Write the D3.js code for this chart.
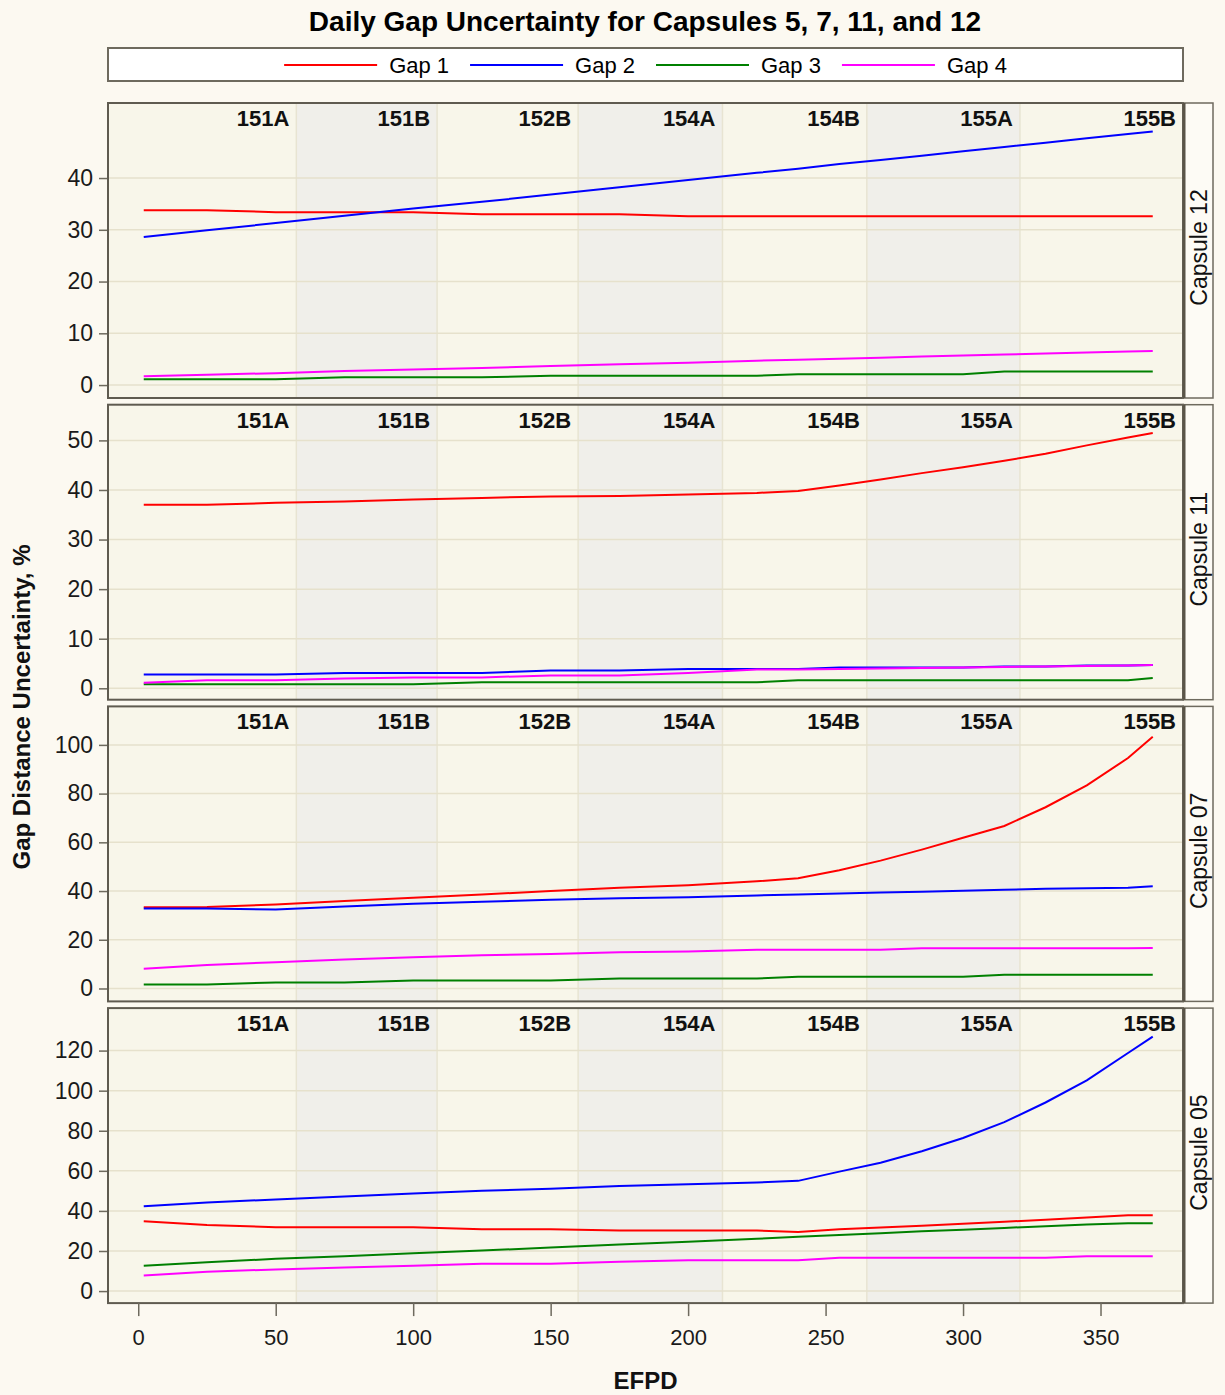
<!DOCTYPE html>
<html>
<head>
<meta charset="utf-8">
<script src="https://cdn.jsdelivr.net/npm/d3@7"></script>
<style>
  body { margin: 0; background: #fcf9f1; }
  svg { display: block; font-family: "Liberation Sans", Arial, sans-serif; }
</style>
</head>
<body>
<div id="chart"></div>
<script>
// EFPD sample points
const efpd = [2, 25, 50, 75, 100, 125, 150, 175, 200, 225, 240, 255, 270, 285, 300, 315, 330, 345, 360, 369];

const gapNames = ["Gap 1", "Gap 2", "Gap 3", "Gap 4"];
const gapColors = ["#ff0000", "#0000ff", "#008000", "#ff00ff"];

const capsuleNames = ["Capsule 12", "Capsule 11", "Capsule 07", "Capsule 05"];

// cycles and where each one ends (EFPD)
const cycleNames = ["151A", "151B", "152B", "154A", "154B", "155A", "155B"];
const cycleEnds = [57.5, 108.7, 160, 212.5, 265, 320.7, 380];

// Capsule 12
const cap12Gap1 = [33.8, 33.8, 33.4, 33.4, 33.4, 33.0, 33.0, 33.0, 32.6, 32.6, 32.6, 32.6, 32.6, 32.6, 32.6, 32.6, 32.6, 32.6, 32.6, 32.6];
const cap12Gap2 = [28.6, 29.9, 31.3, 32.7, 34.1, 35.4, 36.8, 38.2, 39.6, 41.0, 41.8, 42.7, 43.5, 44.3, 45.2, 46.0, 46.8, 47.7, 48.5, 49.0];
const cap12Gap3 = [1.1, 1.1, 1.1, 1.5, 1.5, 1.5, 1.8, 1.8, 1.8, 1.8, 2.1, 2.1, 2.1, 2.1, 2.1, 2.6, 2.6, 2.6, 2.6, 2.6];
const cap12Gap4 = [1.7, 2.0, 2.3, 2.7, 3.0, 3.3, 3.7, 4.0, 4.3, 4.7, 4.9, 5.1, 5.3, 5.5, 5.7, 5.9, 6.1, 6.3, 6.5, 6.6];

// Capsule 11
const cap11Gap1 = [37.0, 37.0, 37.4, 37.7, 38.1, 38.4, 38.7, 38.8, 39.1, 39.4, 39.8, 40.9, 42.1, 43.4, 44.6, 45.9, 47.3, 49.0, 50.6, 51.5];
const cap11Gap2 = [2.8, 2.8, 2.8, 3.1, 3.1, 3.1, 3.6, 3.6, 3.9, 3.9, 3.9, 4.2, 4.2, 4.2, 4.2, 4.4, 4.4, 4.6, 4.6, 4.7];
const cap11Gap3 = [0.8, 0.8, 0.8, 0.8, 0.8, 1.2, 1.2, 1.2, 1.2, 1.2, 1.6, 1.6, 1.6, 1.6, 1.6, 1.6, 1.6, 1.6, 1.6, 2.1];
const cap11Gap4 = [1.1, 1.6, 1.6, 2.0, 2.2, 2.2, 2.6, 2.6, 3.1, 3.8, 3.8, 3.9, 4.0, 4.1, 4.2, 4.3, 4.4, 4.5, 4.6, 4.7];

// Capsule 07
const cap07Gap1 = [33.3, 33.5, 34.5, 35.9, 37.2, 38.6, 40.0, 41.4, 42.4, 44.0, 45.3, 48.5, 52.5, 57.0, 61.9, 66.7, 74.4, 83.4, 94.6, 103.3];
const cap07Gap2 = [32.8, 32.8, 32.4, 33.7, 34.8, 35.6, 36.4, 37.0, 37.5, 38.2, 38.6, 39.0, 39.4, 39.7, 40.1, 40.5, 40.9, 41.2, 41.4, 42.0];
const cap07Gap3 = [1.6, 1.6, 2.5, 2.5, 3.3, 3.3, 3.3, 4.1, 4.1, 4.1, 4.8, 4.8, 4.8, 4.8, 4.8, 5.6, 5.6, 5.6, 5.6, 5.6];
const cap07Gap4 = [8.1, 9.6, 10.8, 11.9, 12.8, 13.6, 14.2, 14.9, 15.2, 15.9, 15.9, 15.9, 15.9, 16.5, 16.5, 16.5, 16.5, 16.5, 16.5, 16.6];

// Capsule 05
const cap05Gap1 = [34.9, 33.0, 31.9, 31.9, 31.9, 30.9, 30.9, 30.2, 30.2, 30.2, 29.5, 30.8, 31.7, 32.6, 33.6, 34.6, 35.6, 36.7, 37.8, 37.8];
const cap05Gap2 = [42.3, 44.2, 45.7, 47.2, 48.7, 50.0, 51.1, 52.4, 53.3, 54.2, 55.0, 59.6, 64.0, 69.8, 76.4, 84.3, 94.1, 105.1, 118.8, 127.0];
const cap05Gap3 = [12.6, 14.4, 16.1, 17.4, 18.9, 20.2, 21.7, 23.2, 24.6, 26.1, 27.1, 28.0, 28.9, 29.8, 30.6, 31.5, 32.4, 33.2, 33.9, 33.9];
const cap05Gap4 = [7.8, 9.6, 10.8, 11.8, 12.6, 13.6, 13.6, 14.6, 15.4, 15.4, 15.4, 16.6, 16.6, 16.6, 16.6, 16.6, 16.6, 17.4, 17.4, 17.4];

const yTicks12 = [0, 10, 20, 30, 40];
const yTicks11 = [0, 10, 20, 30, 40, 50];
const yTicks07 = [0, 20, 40, 60, 80, 100];
const yTicks05 = [0, 20, 40, 60, 80, 100, 120];
const xTicks = [0, 50, 100, 150, 200, 250, 300, 350];

const panels = [
  { name: capsuleNames[0], series: [cap12Gap1, cap12Gap2, cap12Gap3, cap12Gap4], ticks: yTicks12, domain: [-2.5, 54.5] },
  { name: capsuleNames[1], series: [cap11Gap1, cap11Gap2, cap11Gap3, cap11Gap4], ticks: yTicks11, domain: [-2.3, 57.2] },
  { name: capsuleNames[2], series: [cap07Gap1, cap07Gap2, cap07Gap3, cap07Gap4], ticks: yTicks07, domain: [-5.3, 115.8] },
  { name: capsuleNames[3], series: [cap05Gap1, cap05Gap2, cap05Gap3, cap05Gap4], ticks: yTicks05, domain: [-6, 141.2] }
];

const width = 1225, height = 1395;
const plotL = 108, plotR = 1183, stripR = 1213;
const panelTop0 = 103, panelH = 295, panelStep = 301.7;

const svg = d3.select("#chart").append("svg")
  .attr("width", width)
  .attr("height", height);

svg.append("rect").attr("width", width).attr("height", height).attr("fill", "#fcf9f1");

const x = d3.scaleLinear().domain([-11, 380]).range([plotL, plotR]);

// title
svg.append("text")
  .attr("x", 645)
  .attr("y", 31)
  .attr("text-anchor", "middle")
  .style("font-size", "28px")
  .style("font-weight", "bold")
  .attr("fill", "#000")
  .text("Daily Gap Uncertainty for Capsules 5, 7, 11, and 12");

// legend
svg.append("rect")
  .attr("x", plotL).attr("y", 48)
  .attr("width", plotR - plotL).attr("height", 33)
  .attr("fill", "#fff")
  .attr("stroke", "#6e6a5e")
  .attr("stroke-width", 2);

const legend = svg.append("g");
let lx = 0;
gapNames.forEach((name, i) => {
  const item = legend.append("g").attr("transform", `translate(${lx},0)`);
  item.append("line")
    .attr("x1", 0).attr("x2", 93)
    .attr("y1", 65).attr("y2", 65)
    .attr("stroke", gapColors[i])
    .attr("stroke-width", 2);
  const t = item.append("text")
    .attr("x", 105).attr("y", 73)
    .style("font-size", "22px")
    .attr("fill", "#000")
    .text(name);
  lx += 105 + t.node().getComputedTextLength() + 21;
});
const legendW = lx - 21;
legend.attr("transform", `translate(${(plotL + plotR) / 2 - legendW / 2},0)`);

svg.append("defs").append("clipPath").attr("id", "plotclip")
  .append("rect")
  .attr("x", plotL).attr("y", 0)
  .attr("width", plotR - plotL).attr("height", panelH);

const cycleStarts = [x.domain()[0], ...cycleEnds.slice(0, -1)];

panels.forEach((p, pi) => {
  const top = panelTop0 + pi * panelStep;
  const g = svg.append("g").attr("transform", `translate(0,${top})`);
  const y = d3.scaleLinear().domain(p.domain).range([panelH, 0]);

  // background + cycle bands
  g.append("rect")
    .attr("x", plotL).attr("y", 0)
    .attr("width", plotR - plotL).attr("height", panelH)
    .attr("fill", "#f8f6ea");

  g.selectAll(".band")
    .data(cycleNames.map((c, i) => ({ c, i })).filter(d => d.i % 2 === 1))
    .enter().append("rect")
    .attr("x", d => x(cycleStarts[d.i]))
    .attr("y", 0)
    .attr("width", d => x(cycleEnds[d.i]) - x(cycleStarts[d.i]))
    .attr("height", panelH)
    .attr("fill", "#f0efea");

  g.selectAll(".bline")
    .data(cycleEnds.slice(0, -1))
    .enter().append("line")
    .attr("x1", d => x(d)).attr("x2", d => x(d))
    .attr("y1", 0).attr("y2", panelH)
    .attr("stroke", "#e8e4d2")
    .attr("stroke-width", 1.5);

  // horizontal grid
  g.selectAll(".grid")
    .data(p.ticks)
    .enter().append("line")
    .attr("x1", plotL).attr("x2", plotR)
    .attr("y1", d => y(d)).attr("y2", d => y(d))
    .attr("stroke", "#e6e1cc")
    .attr("stroke-width", 1.5);

  // cycle labels
  g.selectAll(".clabel")
    .data(cycleNames)
    .enter().append("text")
    .attr("x", (d, i) => x(cycleEnds[i]) - 7)
    .attr("y", 23)
    .attr("text-anchor", "end")
    .style("font-size", "22px")
    .style("font-weight", "bold")
    .attr("fill", "#111")
    .text(d => d);

  // series
  const line = d3.line()
    .x((d, i) => x(efpd[i]))
    .y(d => y(d));

  const lines = g.append("g").attr("clip-path", "url(#plotclip)");
  p.series.forEach((s, si) => {
    lines.append("path")
      .datum(s)
      .attr("fill", "none")
      .attr("stroke", gapColors[si])
      .attr("stroke-width", 2)
      .attr("d", line);
  });

  // y axis
  const yAxis = g.append("g")
    .attr("transform", `translate(${plotL},0)`)
    .call(d3.axisLeft(y).tickValues(p.ticks).tickSize(9).tickPadding(6));
  yAxis.select(".domain").remove();
  yAxis.selectAll(".tick line").attr("stroke", "#6e6a5e").attr("stroke-width", 1.5);
  yAxis.selectAll(".tick text")
    .style("font-size", "23px")
    .style("font-family", "Liberation Sans, Arial, sans-serif")
    .attr("fill", "#1a1a1a");

  // border
  g.append("rect")
    .attr("x", plotL).attr("y", 0)
    .attr("width", plotR - plotL).attr("height", panelH)
    .attr("fill", "none")
    .attr("stroke", "#5f5b50")
    .attr("stroke-width", 2);

  // strip on the right
  g.append("rect")
    .attr("x", plotR).attr("y", 0)
    .attr("width", stripR - plotR).attr("height", panelH)
    .attr("fill", "#fdfbf5")
    .attr("stroke", "#6e6a5e")
    .attr("stroke-width", 1.5);
  g.append("line")
    .attr("x1", plotR + 1).attr("x2", plotR + 1)
    .attr("y1", 0).attr("y2", panelH)
    .attr("stroke", "#5a5548")
    .attr("stroke-width", 3);
  g.append("text")
    .attr("transform", `translate(${(plotR + stripR) / 2 + 9},${panelH / 2 - 3}) rotate(-90)`)
    .attr("text-anchor", "middle")
    .style("font-size", "23px")
    .attr("fill", "#111")
    .text(p.name);

  if (pi === panels.length - 1) {
    const xAxis = g.append("g")
      .attr("transform", `translate(0,${panelH})`)
      .call(d3.axisBottom(x).tickValues(xTicks).tickSize(13).tickPadding(13));
    xAxis.select(".domain").remove();
    xAxis.selectAll(".tick line").attr("stroke", "#6e6a5e").attr("stroke-width", 1.5);
    xAxis.selectAll(".tick text")
      .style("font-size", "22px")
      .style("font-family", "Liberation Sans, Arial, sans-serif")
      .attr("fill", "#1a1a1a");
  }
});

// axis titles
svg.append("text")
  .attr("x", (plotL + plotR) / 2)
  .attr("y", 1389)
  .attr("text-anchor", "middle")
  .style("font-size", "24px")
  .style("font-weight", "bold")
  .attr("fill", "#111")
  .text("EFPD");

svg.append("text")
  .attr("transform", `translate(30,707) rotate(-90)`)
  .attr("text-anchor", "middle")
  .style("font-size", "24px")
  .style("font-weight", "bold")
  .attr("fill", "#111")
  .text("Gap Distance Uncertainty, %");
</script>
</body>
</html>
